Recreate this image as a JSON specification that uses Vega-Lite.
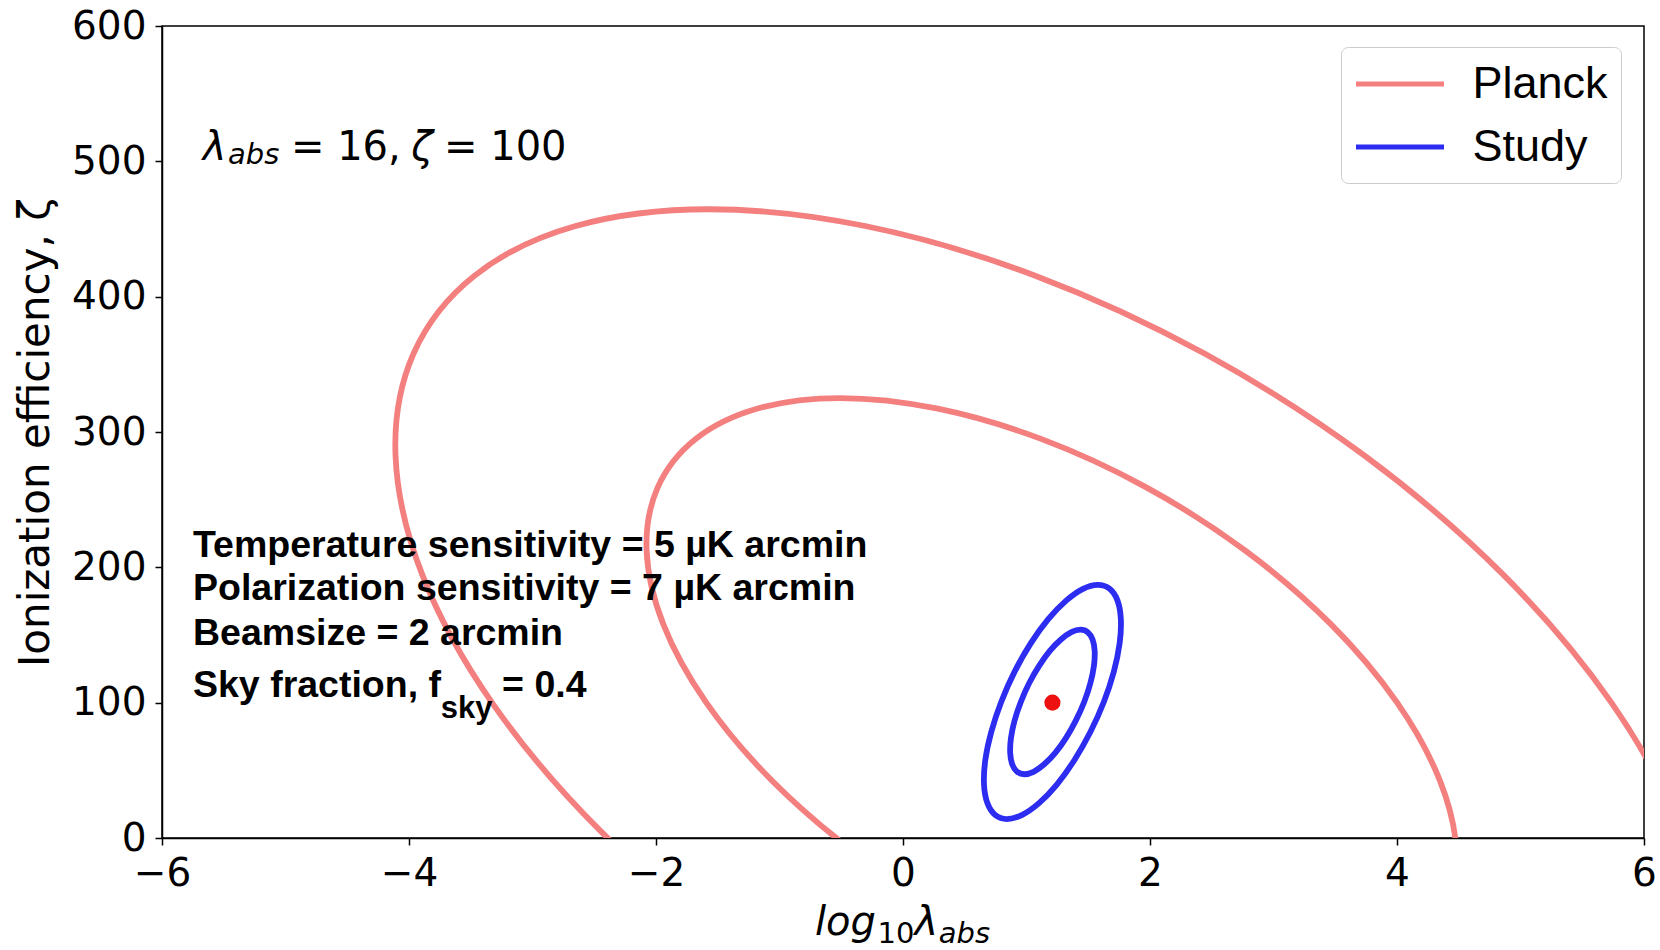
{
  "$schema": "https://vega.github.io/schema/vega-lite/v6.json",
  "autosize": {"type": "none"},
  "width": 1482,
  "height": 812,
  "padding": {"left": 162, "top": 26, "right": 16, "bottom": 112},
  "background": "#ffffff",
  "datasets": {
    "contours": [
      {"c": "P68", "series": "Planck", "t": 0, "x": 4.001, "y": 100},
      {"c": "P68", "series": "Planck", "t": 15, "x": 3.462, "y": 158.2},
      {"c": "P68", "series": "Planck", "t": 30, "x": 2.769, "y": 212.5},
      {"c": "P68", "series": "Planck", "t": 45, "x": 1.970, "y": 259.1},
      {"c": "P68", "series": "Planck", "t": 60, "x": 1.118, "y": 294.9},
      {"c": "P68", "series": "Planck", "t": 75, "x": 0.272, "y": 317.4},
      {"c": "P68", "series": "Planck", "t": 90, "x": -0.510, "y": 325.1},
      {"c": "P68", "series": "Planck", "t": 105, "x": -1.176, "y": 317.4},
      {"c": "P68", "series": "Planck", "t": 120, "x": -1.679, "y": 294.9},
      {"c": "P68", "series": "Planck", "t": 135, "x": -1.986, "y": 259.1},
      {"c": "P68", "series": "Planck", "t": 150, "x": -2.076, "y": 212.5},
      {"c": "P68", "series": "Planck", "t": 165, "x": -1.942, "y": 158.2},
      {"c": "P68", "series": "Planck", "t": 180, "x": -1.593, "y": 100},
      {"c": "P68", "series": "Planck", "t": 195, "x": -1.054, "y": 41.8},
      {"c": "P68", "series": "Planck", "t": 210, "x": -0.361, "y": -12.5},
      {"c": "P68", "series": "Planck", "t": 225, "x": 0.438, "y": -59.1},
      {"c": "P68", "series": "Planck", "t": 240, "x": 1.290, "y": -94.9},
      {"c": "P68", "series": "Planck", "t": 255, "x": 2.136, "y": -117.4},
      {"c": "P68", "series": "Planck", "t": 270, "x": 2.918, "y": -125.1},
      {"c": "P68", "series": "Planck", "t": 285, "x": 3.584, "y": -117.4},
      {"c": "P68", "series": "Planck", "t": 300, "x": 4.087, "y": -94.9},
      {"c": "P68", "series": "Planck", "t": 315, "x": 4.394, "y": -59.1},
      {"c": "P68", "series": "Planck", "t": 330, "x": 4.484, "y": -12.5},
      {"c": "P68", "series": "Planck", "t": 345, "x": 4.350, "y": 41.8},
      {"c": "P95", "series": "Planck", "t": 0, "x": 5.736, "y": 100},
      {"c": "P95", "series": "Planck", "t": 15, "x": 4.862, "y": 194.4},
      {"c": "P95", "series": "Planck", "t": 30, "x": 3.740, "y": 282.3},
      {"c": "P95", "series": "Planck", "t": 45, "x": 2.445, "y": 357.8},
      {"c": "P95", "series": "Planck", "t": 60, "x": 1.065, "y": 415.7},
      {"c": "P95", "series": "Planck", "t": 75, "x": -0.306, "y": 452.2},
      {"c": "P95", "series": "Planck", "t": 90, "x": -1.573, "y": 464.6},
      {"c": "P95", "series": "Planck", "t": 105, "x": -2.651, "y": 452.2},
      {"c": "P95", "series": "Planck", "t": 120, "x": -3.467, "y": 415.7},
      {"c": "P95", "series": "Planck", "t": 135, "x": -3.964, "y": 357.8},
      {"c": "P95", "series": "Planck", "t": 150, "x": -4.109, "y": 282.3},
      {"c": "P95", "series": "Planck", "t": 165, "x": -3.892, "y": 194.4},
      {"c": "P95", "series": "Planck", "t": 180, "x": -3.328, "y": 100},
      {"c": "P95", "series": "Planck", "t": 195, "x": -2.454, "y": 5.6},
      {"c": "P95", "series": "Planck", "t": 210, "x": -1.332, "y": -82.3},
      {"c": "P95", "series": "Planck", "t": 225, "x": -0.037, "y": -157.8},
      {"c": "P95", "series": "Planck", "t": 240, "x": 1.343, "y": -215.7},
      {"c": "P95", "series": "Planck", "t": 255, "x": 2.714, "y": -252.2},
      {"c": "P95", "series": "Planck", "t": 270, "x": 3.981, "y": -264.6},
      {"c": "P95", "series": "Planck", "t": 285, "x": 5.060, "y": -252.2},
      {"c": "P95", "series": "Planck", "t": 300, "x": 5.875, "y": -215.7},
      {"c": "P95", "series": "Planck", "t": 315, "x": 6.372, "y": -157.8},
      {"c": "P95", "series": "Planck", "t": 330, "x": 6.517, "y": -82.3},
      {"c": "P95", "series": "Planck", "t": 345, "x": 6.300, "y": 5.6},
      {"c": "S95", "series": "Study", "t": 0, "x": 1.626, "y": 100.5},
      {"c": "S95", "series": "Study", "t": 15, "x": 1.707, "y": 122.9},
      {"c": "S95", "series": "Study", "t": 30, "x": 1.754, "y": 143.8},
      {"c": "S95", "series": "Study", "t": 45, "x": 1.764, "y": 161.7},
      {"c": "S95", "series": "Study", "t": 60, "x": 1.737, "y": 175.4},
      {"c": "S95", "series": "Study", "t": 75, "x": 1.673, "y": 184.1},
      {"c": "S95", "series": "Study", "t": 90, "x": 1.578, "y": 187.0},
      {"c": "S95", "series": "Study", "t": 105, "x": 1.458, "y": 184.1},
      {"c": "S95", "series": "Study", "t": 120, "x": 1.321, "y": 175.4},
      {"c": "S95", "series": "Study", "t": 135, "x": 1.176, "y": 161.7},
      {"c": "S95", "series": "Study", "t": 150, "x": 1.034, "y": 143.8},
      {"c": "S95", "series": "Study", "t": 165, "x": 0.904, "y": 122.9},
      {"c": "S95", "series": "Study", "t": 180, "x": 0.795, "y": 100.5},
      {"c": "S95", "series": "Study", "t": 195, "x": 0.714, "y": 78.1},
      {"c": "S95", "series": "Study", "t": 210, "x": 0.666, "y": 57.3},
      {"c": "S95", "series": "Study", "t": 225, "x": 0.656, "y": 39.3},
      {"c": "S95", "series": "Study", "t": 240, "x": 0.684, "y": 25.6},
      {"c": "S95", "series": "Study", "t": 255, "x": 0.747, "y": 16.95},
      {"c": "S95", "series": "Study", "t": 270, "x": 0.842, "y": 14.0},
      {"c": "S95", "series": "Study", "t": 285, "x": 0.962, "y": 16.95},
      {"c": "S95", "series": "Study", "t": 300, "x": 1.099, "y": 25.6},
      {"c": "S95", "series": "Study", "t": 315, "x": 1.244, "y": 39.3},
      {"c": "S95", "series": "Study", "t": 330, "x": 1.386, "y": 57.3},
      {"c": "S95", "series": "Study", "t": 345, "x": 1.516, "y": 78.1},
      {"c": "S68", "series": "Study", "t": 0, "x": 1.467, "y": 100.5},
      {"c": "S68", "series": "Study", "t": 15, "x": 1.517, "y": 114.3},
      {"c": "S68", "series": "Study", "t": 30, "x": 1.546, "y": 127.2},
      {"c": "S68", "series": "Study", "t": 45, "x": 1.552, "y": 138.3},
      {"c": "S68", "series": "Study", "t": 60, "x": 1.535, "y": 146.7},
      {"c": "S68", "series": "Study", "t": 75, "x": 1.496, "y": 152.1},
      {"c": "S68", "series": "Study", "t": 90, "x": 1.437, "y": 153.9},
      {"c": "S68", "series": "Study", "t": 105, "x": 1.363, "y": 152.1},
      {"c": "S68", "series": "Study", "t": 120, "x": 1.279, "y": 146.7},
      {"c": "S68", "series": "Study", "t": 135, "x": 1.189, "y": 138.3},
      {"c": "S68", "series": "Study", "t": 150, "x": 1.102, "y": 127.2},
      {"c": "S68", "series": "Study", "t": 165, "x": 1.021, "y": 114.3},
      {"c": "S68", "series": "Study", "t": 180, "x": 0.954, "y": 100.5},
      {"c": "S68", "series": "Study", "t": 195, "x": 0.903, "y": 86.7},
      {"c": "S68", "series": "Study", "t": 210, "x": 0.874, "y": 73.8},
      {"c": "S68", "series": "Study", "t": 225, "x": 0.868, "y": 62.7},
      {"c": "S68", "series": "Study", "t": 240, "x": 0.885, "y": 54.3},
      {"c": "S68", "series": "Study", "t": 255, "x": 0.924, "y": 48.9},
      {"c": "S68", "series": "Study", "t": 270, "x": 0.983, "y": 47.1},
      {"c": "S68", "series": "Study", "t": 285, "x": 1.057, "y": 48.9},
      {"c": "S68", "series": "Study", "t": 300, "x": 1.141, "y": 54.3},
      {"c": "S68", "series": "Study", "t": 315, "x": 1.231, "y": 62.7},
      {"c": "S68", "series": "Study", "t": 330, "x": 1.319, "y": 73.8},
      {"c": "S68", "series": "Study", "t": 345, "x": 1.399, "y": 86.7}
    ],
    "fiducial": [{"x": 1.21, "y": 100}],
    "notes": [
      {"k": "b", "x": -5.749, "y": 207.5, "text": "Temperature sensitivity = 5 µK arcmin"},
      {"k": "b", "x": -5.749, "y": 175.5, "text": "Polarization sensitivity = 7 µK arcmin"},
      {"k": "b", "x": -5.749, "y": 142.7, "text": "Beamsize = 2 arcmin"},
      {"k": "b", "x": -5.749, "y": 104.1, "text": "Sky fraction, f"},
      {"k": "bs", "x": -3.743, "y": 89.0, "text": "sky"},
      {"k": "b", "x": -3.246, "y": 104.1, "text": "= 0.4"},
      {"k": "i", "x": -5.670, "y": 501.0, "text": "λ"},
      {"k": "is", "x": -5.466, "y": 497.8, "text": "abs"},
      {"k": "r", "x": -4.956, "y": 501.0, "text": "= 16,"},
      {"k": "i", "x": -3.981, "y": 501.0, "text": "ζ"},
      {"k": "r", "x": -3.717, "y": 501.0, "text": "= 100"},
      {"k": "i", "x": -0.7126, "y": -71.5, "text": "log"},
      {"k": "rs", "x": -0.2065, "y": -77.5, "text": "10"},
      {"k": "i", "x": 0.0923, "y": -71.5, "text": "λ"},
      {"k": "is", "x": 0.2891, "y": -77.5, "text": "abs"}
    ]
  },
  "encoding": {
    "x": {
      "field": "x", "type": "quantitative",
      "scale": {"domain": [-6, 6], "nice": false, "zero": false},
      "axis": {"values": [-6, -4, -2, 0, 2, 4, 6], "title": null, "labelFlush": false, "labelPadding": 9}
    },
    "y": {
      "field": "y", "type": "quantitative",
      "scale": {"domain": [0, 600], "nice": false, "zero": false},
      "axis": {"values": [0, 100, 200, 300, 400, 500, 600], "title": "Ionization efficiency, ζ", "titlePadding": 14, "labelPadding": 9}
    }
  },
  "layer": [
    {
      "data": {"name": "contours"},
      "mark": {"type": "line", "strokeWidth": 5.8, "interpolate": "cardinal-closed", "clip": true},
      "encoding": {
        "color": {
          "field": "series", "type": "nominal",
          "scale": {"domain": ["Planck", "Study"], "range": ["#f37f7f", "#2d2df2"]},
          "legend": {
            "orient": "none", "legendX": 1179, "legendY": 21, "title": null,
            "symbolType": "M-1,0H3", "symbolSize": 1936, "symbolStrokeWidth": 5,
            "labelFont": "Liberation Sans", "labelFontSize": 45, "labelColor": "#000",
            "labelOffset": 70, "rowPadding": 15, "padding": 12.5,
            "fillColor": "#ffffff", "strokeColor": "#cccccc", "cornerRadius": 7
          }
        },
        "detail": {"field": "c", "type": "nominal"},
        "order": {"field": "t", "type": "quantitative"}
      }
    },
    {
      "data": {"name": "fiducial"},
      "mark": {"type": "point", "filled": true, "size": 260, "color": "#ee1111", "opacity": 1}
    },
    {
      "data": {"name": "notes"},
      "transform": [{"filter": "datum.k === 'b'"}],
      "mark": {"type": "text", "align": "left", "baseline": "alphabetic", "font": "Liberation Sans", "fontWeight": "bold", "fontSize": 37.5, "color": "#000"},
      "encoding": {"text": {"field": "text", "type": "nominal"}}
    },
    {
      "data": {"name": "notes"},
      "transform": [{"filter": "datum.k === 'bs'"}],
      "mark": {"type": "text", "align": "left", "baseline": "alphabetic", "font": "Liberation Sans", "fontWeight": "bold", "fontSize": 31, "color": "#000"},
      "encoding": {"text": {"field": "text", "type": "nominal"}}
    },
    {
      "data": {"name": "notes"},
      "transform": [{"filter": "datum.k === 'i'"}],
      "mark": {"type": "text", "align": "left", "baseline": "alphabetic", "font": "DejaVu Sans", "fontStyle": "italic", "fontSize": 40, "color": "#000"},
      "encoding": {"text": {"field": "text", "type": "nominal"}}
    },
    {
      "data": {"name": "notes"},
      "transform": [{"filter": "datum.k === 'is'"}],
      "mark": {"type": "text", "align": "left", "baseline": "alphabetic", "font": "DejaVu Sans", "fontStyle": "italic", "fontSize": 29, "color": "#000"},
      "encoding": {"text": {"field": "text", "type": "nominal"}}
    },
    {
      "data": {"name": "notes"},
      "transform": [{"filter": "datum.k === 'r'"}],
      "mark": {"type": "text", "align": "left", "baseline": "alphabetic", "font": "DejaVu Sans", "fontSize": 40, "color": "#000"},
      "encoding": {"text": {"field": "text", "type": "nominal"}}
    },
    {
      "data": {"name": "notes"},
      "transform": [{"filter": "datum.k === 'rs'"}],
      "mark": {"type": "text", "align": "left", "baseline": "alphabetic", "font": "DejaVu Sans", "fontSize": 29, "color": "#000"},
      "encoding": {"text": {"field": "text", "type": "nominal"}}
    }
  ],
  "config": {
    "view": {"stroke": "#000000", "strokeWidth": 1.5},
    "axis": {
      "grid": false,
      "domainColor": "#000000", "domainWidth": 1.5,
      "tickColor": "#000000", "tickWidth": 1.5, "tickSize": 7,
      "labelFont": "DejaVu Sans", "labelFontSize": 39, "labelColor": "#000000",
      "labelOverlap": false,
      "titleFont": "DejaVu Sans", "titleFontSize": 42, "titleFontWeight": "normal", "titleColor": "#000000"
    }
  }
}
